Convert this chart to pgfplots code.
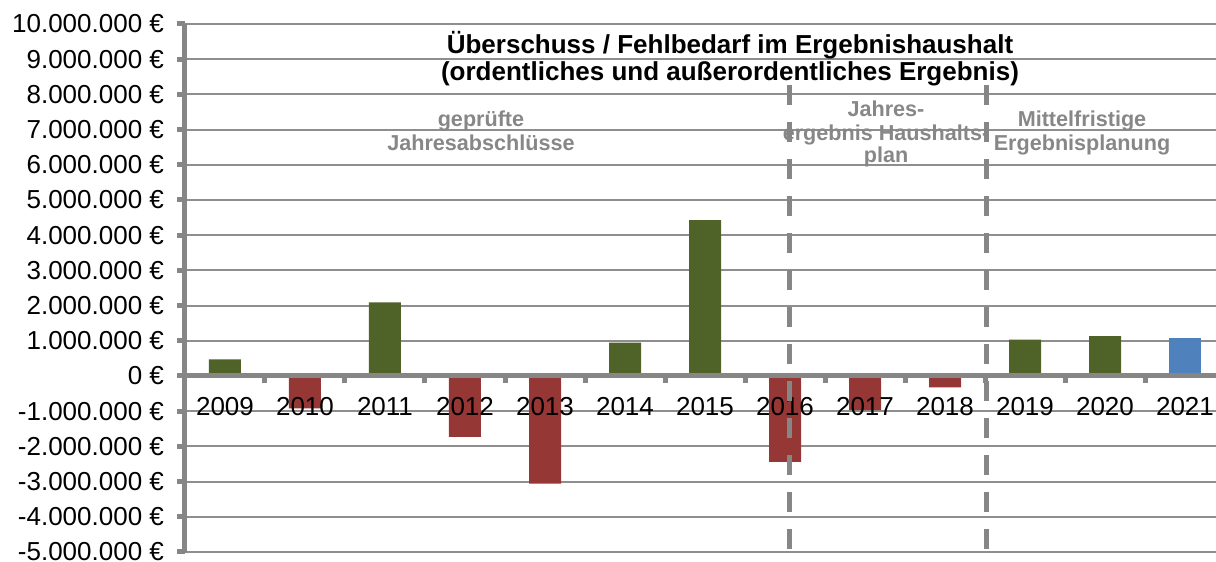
\documentclass[border=0pt]{standalone}
\usepackage{fontspec}
\setmainfont{Liberation Sans}
\usepackage{pgfplots}
\pgfplotsset{compat=1.18}
\definecolor{ogreen}{HTML}{4F6228}
\definecolor{ored}{HTML}{953735}
\definecolor{oblue}{HTML}{4F81BD}
\definecolor{agray}{HTML}{868686}
\definecolor{ggray}{HTML}{8E8E8E}
\definecolor{tgray}{HTML}{878787}
\begin{document}
\begin{tikzpicture}
\begin{axis}[
  at={(0pt,0pt)}, anchor=south west,
  scale only axis, width=520pt, height=264pt,
  xmin=-0.5, xmax=12.5, ymin=-5000000, ymax=10000000,
  axis x line=none, axis y line=left,
  y axis line style={-, agray, line width=2.5pt},
  xtick=\empty,
  ytick={-5000000,-4000000,-3000000,-2000000,-1000000,0,1000000,2000000,3000000,4000000,5000000,6000000,7000000,8000000,9000000,10000000},
  scaled y ticks=false,
  ymajorgrids, grid style={ggray, line width=1pt},
  ytick style={agray, line width=2.5pt},
  tick align=outside, major tick length=4pt,
  yticklabel={\pgfmathprintnumber{\tick}~€},
  y tick label style={font=\fontsize{13}{15}\selectfont, xshift=-3pt},
  /pgf/number format/fixed,
  /pgf/number format/precision=0,
  /pgf/number format/1000 sep={.},
  /pgf/number format/assume math mode=true,
  ybar, bar width=16pt,
  clip=false,
]
\addplot[ybar, bar shift=0pt, draw=none, fill=ogreen] coordinates {
 (0,470000) (2,2090000) (5,950000) (6,4430000) (10,1030000) (11,1130000)};
\addplot[ybar, bar shift=0pt, draw=none, fill=ored] coordinates {
 (1,-920000) (3,-1730000) (4,-3060000) (7,-2440000) (8,-970000) (9,-320000)};
\addplot[ybar, bar shift=0pt, draw=none, fill=oblue] coordinates {
 (12,1070000)};
% x axis line at zero with boundary ticks
\draw[agray, line width=2.5pt] (axis cs:-0.5,0) -- (axis cs:12.5,0);
\pgfplotsinvokeforeach{0.5,1.5,2.5,3.5,4.5,5.5,6.5,7.5,8.5,9.5,10.5,11.5}{
  \draw[agray, line width=2.5pt] (axis cs:#1,0) -- ++(0pt,-3.5pt);
}
% year labels
\begin{scope}[every node/.style={anchor=base, font=\fontsize{13}{15}\selectfont, inner sep=0pt}]
\node at (axis cs:0,-1130000) {2009};
\node at (axis cs:1,-1130000) {2010};
\node at (axis cs:2,-1130000) {2011};
\node at (axis cs:3,-1130000) {2012};
\node at (axis cs:4,-1130000) {2013};
\node at (axis cs:5,-1130000) {2014};
\node at (axis cs:6,-1130000) {2015};
\node at (axis cs:7,-1130000) {2016};
\node at (axis cs:8,-1130000) {2017};
\node at (axis cs:9,-1130000) {2018};
\node at (axis cs:10,-1130000) {2019};
\node at (axis cs:11,-1130000) {2020};
\node at (axis cs:12,-1130000) {2021};
\end{scope}
% title
\node[anchor=base, font=\bfseries\fontsize{13}{15}\selectfont, inner sep=0pt] at (axis cs:6.3125,9148000) {Überschuss / Fehlbedarf im Ergebnishaushalt};
\node[anchor=base, font=\bfseries\fontsize{13}{15}\selectfont, inner sep=0pt] at (axis cs:6.3125,8381000) {(ordentliches und außerordentliches Ergebnis)};
% section labels
\begin{scope}[every node/.style={anchor=base, text=tgray, font=\bfseries\fontsize{10.8}{12}\selectfont, inner sep=0pt}]
\node at (axis cs:3.2,7074000) {geprüfte};
\node at (axis cs:3.2,6420000) {Jahresabschlüsse};
\node at (axis cs:8.2625,7358000) {Jahres-};
\node at (axis cs:8.2625,6676000) {ergebnis Haushalts-};
\node at (axis cs:8.2625,6051000) {plan};
\node at (axis cs:10.7125,7074000) {Mittelfristige};
\node at (axis cs:10.7125,6420000) {Ergebnisplanung};
\end{scope}
% dashed separators
\draw[agray, line width=2.5pt, dash pattern=on 10pt off 8.5pt] (axis cs:7.05,8267000) -- (axis cs:7.05,-5000000);
\draw[agray, line width=2.5pt, dash pattern=on 10pt off 8.5pt] (axis cs:9.5125,8267000) -- (axis cs:9.5125,-5000000);
\end{axis}
\pgfresetboundingbox
\path[use as bounding box] (-92.5pt,-5pt) rectangle (515.5pt,276pt);
\end{tikzpicture}
\end{document}
